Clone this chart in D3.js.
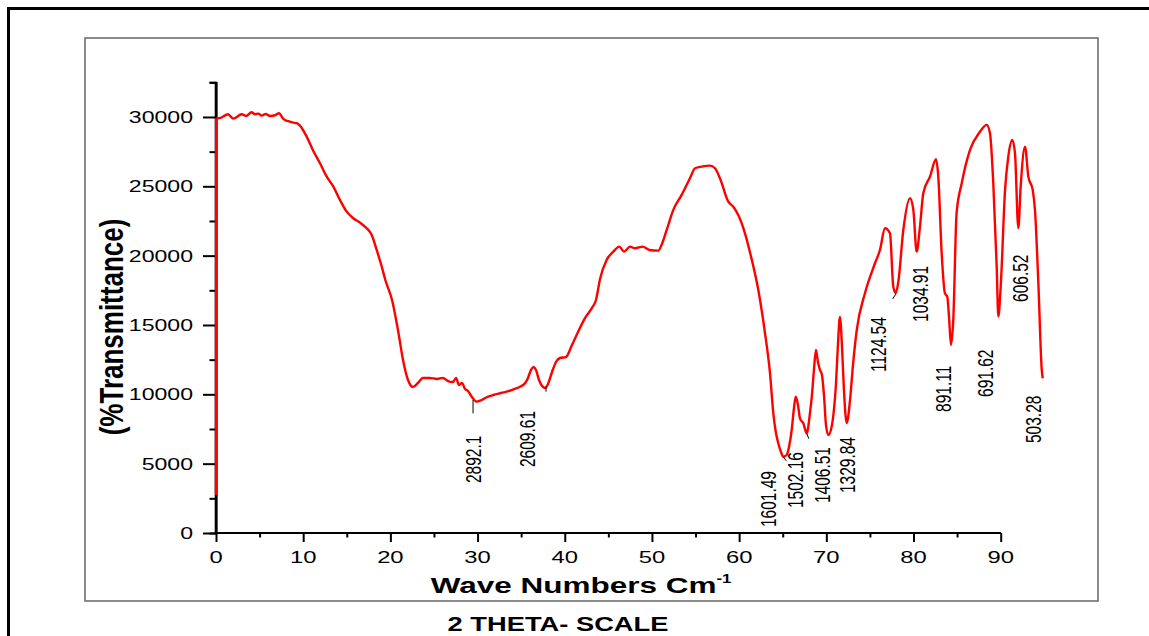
<!DOCTYPE html>
<html>
<head>
<meta charset="utf-8">
<script src="https://cdn.jsdelivr.net/npm/d3@7"></script>
<style>
	body { margin: 0; background: #fff; }
	text { font-family: "Liberation Sans", Arial, sans-serif; }
</style>
</head>
<body>
<svg id="chart" width="1149" height="636"></svg>
<script>
/**** DATA *****/
// x position on the 2-theta scale and transmittance
const waveX = [0, 0.02, 0.6, 1.38, 1.98, 2.95, 3.44, 4.09, 4.47, 4.85, 5.24, 5.70, 6.19, 6.77, 7.23, 7.72, 8.29, 8.87, 9.26, 9.63,
	10.40, 11.16, 11.93, 12.70, 13.46, 14.22, 14.99, 15.75, 16.52, 17.28, 17.86, 18.43, 19.01, 19.42, 20.19, 20.87, 21.45, 22.02, 22.59, 23.17,
	23.74, 24.54, 25.35, 26.03, 26.61, 27.18, 27.53, 27.87, 28.21, 28.56, 28.9, 29.33, 29.9, 30.47, 31.05, 31.8, 32.57, 33.34, 34.1, 34.87,
	35.44, 35.78, 36.13, 36.42, 36.7, 37.05, 37.39, 37.74, 38.08, 38.54, 38.99, 39.45, 40.14, 40.83, 41.52, 42.32, 43.12, 43.58, 44.04, 44.8,
	45.57, 46.26, 46.8, 47.48, 48.06, 48.94, 49.7, 50.73, 51.1, 51.69, 52.45, 53.41, 54.36, 54.94, 55.7, 56.66, 57.23, 57.8, 58.76, 59.33,
	59.9, 60.67, 61.3, 62.2, 62.97, 63.54, 63.92, 64.2, 64.49, 64.8, 65.07, 65.45, 65.72, 66.03, 66.29, 66.49, 66.75, 66.98, 67.36, 67.75,
	68.12, 68.35, 68.58, 68.81, 69.04, 69.27, 69.5, 69.73, 69.96, 70.22, 70.61, 70.87, 71.1, 71.33, 71.56, 71.79, 72.02, 72.34, 72.72, 73.06,
	73.49, 74.43, 75.58, 76.15, 76.73, 77.3, 77.68, 77.96, 78.26, 78.83, 79.6, 79.98, 80.36, 80.74, 81.12, 81.89, 82.58, 82.84, 83.23, 83.6,
	83.87, 84.07, 84.3, 84.56, 84.94, 85.53, 86.48, 87.62, 88.39, 88.77, 89.15, 89.54, 89.73, 90.0, 90.5, 90.87, 91.33, 91.64, 92.02, 92.29,
	92.79, 93.17, 93.67, 93.93, 94.32, 94.71, 94.82];
const transmittance = [2740, 29858, 29950, 30197, 29880, 30197, 30075, 30341, 30197, 30240, 30096, 30218, 30075, 30125, 30269, 29858, 29692, 29591, 29548, 29375,
	28582, 27550, 26663, 25697, 24976, 24016, 23172, 22696, 22379, 21975, 21492, 20410, 19206, 18246, 16800, 14640, 12480, 11030, 10530, 10820,
	11180, 11180, 11110, 11180, 10960, 10890, 11180, 10670, 10820, 10390, 10240, 9830, 9470, 9590, 9790, 9950, 10075, 10190, 10360, 10550,
	10800, 11180, 11760, 11970, 11760, 11030, 10600, 10460, 10750, 11610, 12330, 12620, 12690, 13560, 14500, 15500, 16230, 16800, 18300, 19690,
	20290, 20650, 20290, 20650, 20530, 20650, 20410, 20360, 20770, 21850, 23300, 24380, 25580, 26300, 26420, 26490, 26300, 25580, 23890, 23530,
	22930, 21610, 20100, 17525, 14400, 11520, 8630, 7300, 6470, 5840, 5500, 5625, 6200, 7430, 9015, 9830, 9230, 8270, 7910, 7190,
	8630, 9950, 11760, 13200, 12330, 11760, 11400, 9950, 7790, 7070, 7670, 8870, 10670, 13560, 15580, 13560, 10310, 7930, 9590, 12120,
	14640, 17290, 19450, 20410, 21975, 21615, 17765, 17290, 18120, 21850, 24140, 23300, 20290, 22090, 24500, 25700, 26950, 25700, 20170, 17290,
	17040, 15600, 13560, 15360, 23060, 25220, 27620, 28940, 29430, 28830, 25220, 19210, 15600, 17765, 24740, 27140, 28340, 27380, 21975, 24980,
	27860, 25700, 24740, 23300, 18010, 11760, 11160];

// peak annotations (wavenumber text), placed by centre x and the bottom of the rotated text
const peakLabels = ['2892.1', '2609.61', '1601.49', '1502.16', '1406.51', '1329.84', '1124.54', '1034.91', '891.11', '691.62', '606.52', '503.28'];
const peakLabelX = [29.48, 35.73, 63.31, 66.41, 69.5, 72.37, 75.93, 80.74, 83.38, 88.2, 92.21, 93.7];
const peakLabelY = [3600, 4760, 430, 1800, 2160, 2880, 11610, 15220, 8730, 9810, 16660, 6490];

// little black leader strokes next to some of the peaks
const leaderX1 = [29.48, 37.85, 65.1, 67.75, 77.61];
const leaderY1 = [9590, 10550, 5480, 7170, 16880];
const leaderX2 = [29.48, 37.85, 65.4, 68.0, 77.96];
const leaderY2 = [8630, 10190, 5200, 6800, 17220];

const xMajor = [0, 10, 20, 30, 40, 50, 60, 70, 80, 90];
const xMinor = [5, 15, 25, 35, 45, 55, 65, 75, 85];
const yMajor = [0, 5000, 10000, 15000, 20000, 25000, 30000];
const yMinor = [2500, 7500, 12500, 17500, 22500, 27500, 32500];

/**** CHART *****/
const svg = d3.select('#chart');
const stretch = 1.4; // the picture is wider than tall, text is squashed that way too

const x = d3.scaleLinear().domain([0, 90]).range([216, 1000.7]);
const y = d3.scaleLinear().domain([0, 32500]).range([533, 82.3]);

// outer heavy border and inner grey frame
svg.append('rect').attr('x', 8.5).attr('y', 8.5).attr('width', 1200).attr('height', 700)
	.attr('fill', 'none').attr('stroke', '#000').attr('stroke-width', 3);
svg.append('rect').attr('x', 85).attr('y', 38).attr('width', 1013).attr('height', 563)
	.attr('fill', 'none').attr('stroke', '#666').attr('stroke-width', 1.5);

// axes
const xAxis = svg.append('g').attr('transform', 'translate(0,533)');
xAxis.call(d3.axisBottom(x).tickValues(xMajor).tickSize(9).tickFormat(''));
xAxis.append('g').call(d3.axisBottom(x).tickValues(xMinor).tickSize(4.5).tickFormat(''));
xAxis.selectAll('path,line').attr('stroke', '#000').attr('stroke-width', 2);
xAxis.selectAll('.domain').attr('d', `M${x(0)},0H${x(90)}`);

const yAxis = svg.append('g').attr('transform', 'translate(216,0)');
yAxis.call(d3.axisLeft(y).tickValues(yMajor).tickSize(13).tickFormat(''));
yAxis.append('g').call(d3.axisLeft(y).tickValues(yMinor).tickSize(6.5).tickFormat(''));
yAxis.selectAll('path,line').attr('stroke', '#000').attr('stroke-width', 2);
yAxis.select('.domain').attr('stroke-width', 2.6).attr('d', `M0,${y(0)}V${y(32500)}`);

// tick labels, stretched sideways like the original
svg.append('g').selectAll('text').data(xMajor).join('text')
	.attr('transform', d => `translate(${x(d)},563) scale(${stretch},1)`)
	.attr('text-anchor', 'middle').attr('font-size', 17).attr('fill', '#000')
	.text(d => d);
svg.append('g').selectAll('text').data(yMajor).join('text')
	.attr('transform', d => `translate(193,${y(d) + 6}) scale(${stretch},1)`)
	.attr('text-anchor', 'end').attr('font-size', 16.5).attr('fill', '#000')
	.text(d => d);

// titles
const xTitle = svg.append('text')
	.attr('transform', `translate(581,593) scale(${stretch},1)`)
	.attr('text-anchor', 'middle').attr('font-size', 22.5).attr('font-weight', 'bold');
xTitle.append('tspan').text('Wave Numbers Cm');
xTitle.append('tspan').attr('font-size', 12).attr('dy', -10).text('-1');

svg.append('text')
	.attr('transform', `translate(111,327) scale(1.25,1) rotate(-90)`)
	.attr('text-anchor', 'middle').attr('dy', '0.36em')
	.attr('font-size', 26).attr('font-weight', 'bold')
	.text('(%Transmittance)');

svg.append('text')
	.attr('transform', `translate(558,631) scale(${stretch},1)`)
	.attr('text-anchor', 'middle').attr('font-size', 19.5).attr('font-weight', 'bold')
	.text('2 THETA- SCALE');

// spectrum
const points = waveX.map((d, i) => [d, transmittance[i]]);
const line = d3.line().x(d => x(d[0])).y(d => y(d[1])).curve(d3.curveMonotoneX);
svg.append('path').datum(points)
	.attr('d', line)
	.attr('fill', 'none').attr('stroke', '#ff0000').attr('stroke-width', 2.4)
	.attr('stroke-linejoin', 'round');

// leaders + peak labels
svg.append('g').selectAll('line').data(leaderX1).join('line')
	.attr('x1', (d, i) => x(d)).attr('y1', (d, i) => y(leaderY1[i]))
	.attr('x2', (d, i) => x(leaderX2[i])).attr('y2', (d, i) => y(leaderY2[i]))
	.attr('stroke', '#000').attr('stroke-width', 1);

svg.append('g').selectAll('text').data(peakLabels).join('text')
	.attr('transform', (d, i) => `translate(${x(peakLabelX[i])},${y(peakLabelY[i])}) scale(${stretch},1) rotate(-90)`)
	.attr('dy', '0.36em').attr('font-size', 15.5).attr('fill', '#000')
	.text(d => d);
</script>
</body>
</html>
